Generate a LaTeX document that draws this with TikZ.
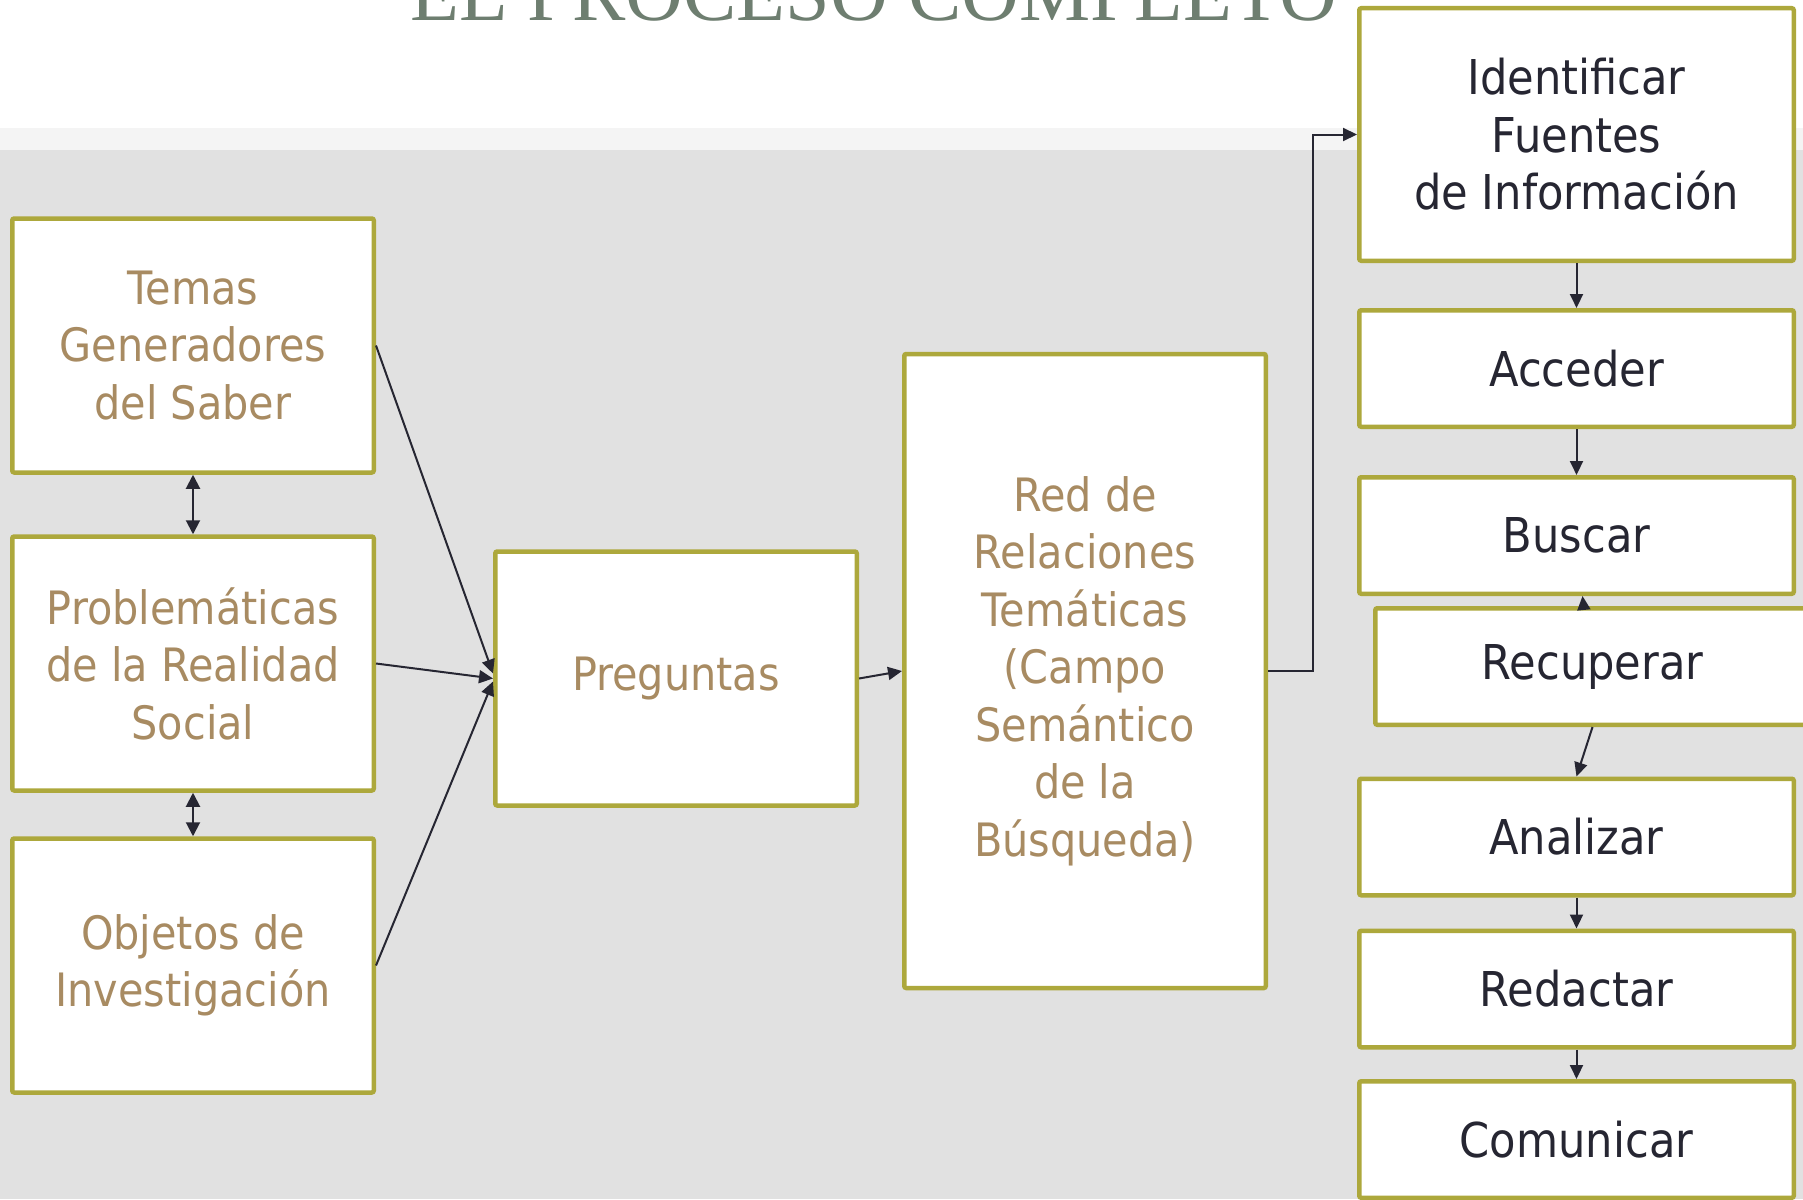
\documentclass[tikz,border=0pt]{standalone}
\usepackage{fontspec}
\setmainfont{DejaVu Sans}[FakeStretch=0.9]
\newfontfamily\titlefont{Liberation Serif}
\usetikzlibrary{arrows.meta,calc}
\definecolor{olivebrd}{HTML}{ADA83C}
\definecolor{tantext}{HTML}{A88B62}
\definecolor{ink}{HTML}{262632}
\definecolor{bggray}{HTML}{E1E1E1}
\definecolor{bgband}{HTML}{F4F4F4}
\definecolor{titlegray}{HTML}{6E7E70}
\begin{document}
\begin{tikzpicture}[x=1pt,y=-1pt,
  box/.style={draw=olivebrd, line width=4.5pt, fill=white, rounded corners=2pt, align=center, inner sep=0pt},
  leftbox/.style={box, minimum width=361.5pt, minimum height=254pt, text=tantext, font=\fontsize{46}{57.5}\selectfont},
  rightbox/.style={box, minimum width=434.5pt, minimum height=116.5pt, text=ink, font=\fontsize{48}{57.5}\selectfont},
  conn/.style={draw=ink, line width=2pt, -{Triangle[length=14pt,width=13pt]}},
  dconn/.style={draw=ink, line width=2pt, {Triangle[length=14pt,width=14pt]}-{Triangle[length=14pt,width=14pt]}},
]
\useasboundingbox (0,0) rectangle (1803,1199);
\clip (0,0) rectangle (1803,1199);
\fill[white] (0,0) rectangle (1803,128);
\fill[bgband] (0,128) rectangle (1803,150);
\fill[bggray] (0,150) rectangle (1803,1199);

\node[font=\titlefont\fontsize{80}{80}\selectfont, text=titlegray, anchor=base] (title) at (874,21) {EL PROCESO COMPLETO};

% left column
\node[leftbox] (temas) at (193,345.5) {Temas\\Generadores\\del Saber};
\node[leftbox] (prob) at (193,663.5) {Problemáticas\\de la Realidad\\Social};
\node[leftbox] (obj) at (193,965.5) {Objetos de\\Investigación};
% middle
\node[leftbox] (preg) at (676,678.5) {Preguntas};
\node[leftbox, minimum width=361.5pt, minimum height=634pt] (red) at (1085,671)
  {Red de\\Relaciones\\Temáticas\\(Campo\\Semántico\\de la\\Búsqueda)};
% right column
\node[rightbox, minimum height=252.5pt] (ident) at (1576.5,134.5) {Identificar\\Fuentes\\de Información};
\node[rightbox] (acc) at (1576.5,368.5) {Acceder};
\node[rightbox] (bus) at (1576.5,535.5) {Buscar};
\node[rightbox] (rec) at (1592.5,666.5) {Recuperar};
\node[rightbox] (ana) at (1576.5,837) {Analizar};
\node[rightbox] (redac) at (1576.5,989) {Redactar};
\node[rightbox] (com) at (1576.5,1139.5) {Comunicar};

% connectors
\draw[dconn] (temas.south) -- (prob.north);
\draw[dconn] (prob.south) -- (obj.north);
\draw[conn] (temas.east) -- ([yshift=5pt]preg.west);
\draw[conn] (prob.east) -- (preg.west);
\draw[conn] (obj.east) -- ([yshift=-3pt]preg.west);
\draw[conn] (preg.east) -- (red.west);
\draw[conn] (red.east) -- ++(45,0) |- (ident.west);
\draw[conn] (ident.south) -- (acc.north);
\draw[conn] (acc.south) -- (bus.north);
\draw[conn] ([xshift=-9pt]rec.north) -- ([xshift=6pt]bus.south);
\draw[conn] (rec.south) -- (ana.north);
\draw[conn] (ana.south) -- (redac.north);
\draw[conn] (redac.south) -- (com.north);
\end{tikzpicture}
\end{document}
